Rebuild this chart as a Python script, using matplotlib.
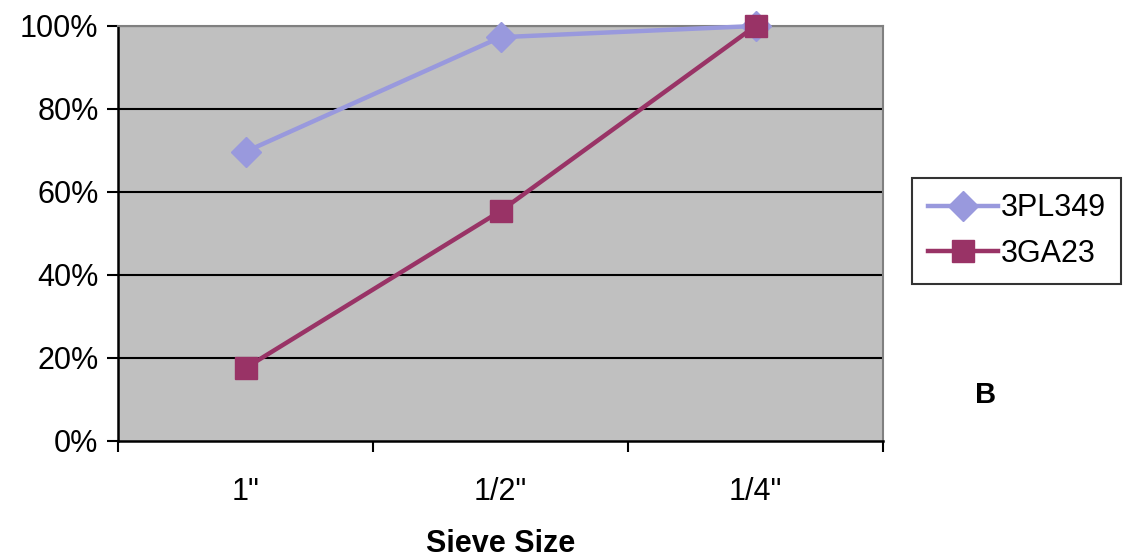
import matplotlib.pyplot as plt

sizes = ['1"', '1/2"', '1/4"']
pl349 = [69.7, 97.3, 100.0]
ga23 = [17.6, 55.4, 100.0]
yticks = [0, 20, 40, 60, 80, 100]

plt.rcParams['font.family'] = ['Liberation Sans', 'DejaVu Sans']

fig = plt.figure(figsize=(11.25, 5.6), dpi=100)
ax = fig.add_axes([0.1049, 0.2125, 0.680, 0.7411])
ax.set_facecolor('#C0C0C0')

x = list(range(len(sizes)))
ax.plot(x, pl349, color='#9999DD', lw=3.2, marker='D', ms=15, label='3PL349', zorder=3, clip_on=False)
ax.plot(x, ga23, color='#993366', lw=3.2, marker='s', ms=16, label='3GA23', zorder=4, clip_on=False)

ax.set_xlim(-0.5, 2.5)
ax.set_ylim(0, 100)
ax.set_yticks(yticks)
ax.set_yticklabels([f'{v}%' for v in yticks], fontsize=22)
ax.set_xticks([-0.5, 0.5, 1.5, 2.5])
ax.set_xticklabels([])
ax.set_xticks(x, minor=True)
ax.set_xticklabels(sizes, minor=True, fontsize=22)
ax.tick_params(axis='x', which='minor', length=0, pad=26)
ax.tick_params(axis='x', which='major', length=8, width=1.5, direction='out')
ax.tick_params(axis='y', length=8, width=1.5, direction='out', pad=6)

for v in yticks[1:]:
    ax.axhline(v, color='black', lw=1.5, zorder=1)

for s in ['left', 'bottom']:
    ax.spines[s].set_color('black')
    ax.spines[s].set_linewidth(1.8)
for s in ['top', 'right']:
    ax.spines[s].set_color('#808080')
    ax.spines[s].set_linewidth(1.5)

# axis title placed by hand so it stays inside the canvas
fig.text(0.445, 0.028, 'Sieve Size', fontsize=22, fontweight='bold', ha='center', va='center')

leg = fig.legend(loc='upper left', bbox_to_anchor=(0.811, 0.682), fontsize=22,
                 frameon=True, fancybox=False, edgecolor='black', handlelength=2.3,
                 handletextpad=0.1, borderpad=0.5, labelspacing=0.5, borderaxespad=0)
leg.get_frame().set_linewidth(1.5)

fig.text(0.876, 0.295, 'B', fontsize=21, fontweight='bold', ha='center', va='center')

fig.savefig('out.png', dpi=100)
